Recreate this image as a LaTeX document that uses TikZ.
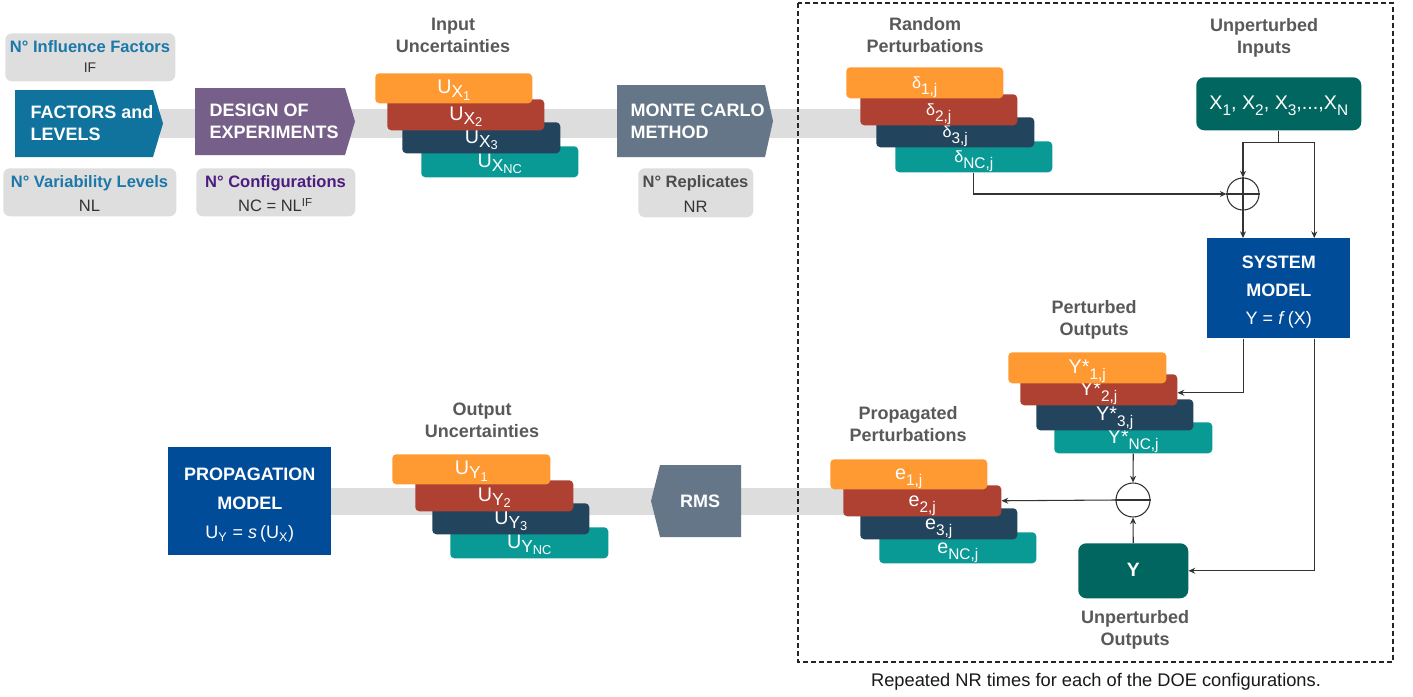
\documentclass[tikz,border=0pt]{standalone}
\usepackage{fontspec}
\setmainfont{Liberation Sans}
\usepackage{graphicx}
\usetikzlibrary{arrows.meta,calc}
\definecolor{cOr}{HTML}{FF9A33}
\definecolor{cRed}{HTML}{AE4132}
\definecolor{cNavy}{HTML}{23445D}
\definecolor{cTeal}{HTML}{0A9A96}
\definecolor{cDTeal}{HTML}{00665F}
\definecolor{cBlue}{HTML}{004C99}
\definecolor{cFac}{HTML}{10739E}
\definecolor{cDoe}{HTML}{76608A}
\definecolor{cMc}{HTML}{647687}
\definecolor{cInfo}{HTML}{DEDEDE}
\definecolor{cBand}{HTML}{DDDDDD}
\definecolor{cTtl}{HTML}{595959}
\definecolor{cInfoBlue}{HTML}{1B78A8}
\definecolor{cInfoPur}{HTML}{4C1D7F}
\definecolor{cInfoGray}{HTML}{4D4D4D}
\definecolor{cVal}{HTML}{333333}
\definecolor{cLine}{HTML}{333333}
\newcommand{\lowx}[2]{\raisebox{-0.35ex}{\scalebox{0.88}{#1}}\raisebox{-0.6ex}{\scalebox{0.65}{#2}}}
\newcommand{\sbs}[1]{\raisebox{-0.55ex}{\scalebox{0.78}{#1}}}
\newcommand{\ystar}[1]{Y*\sbs{#1}}
\newcommand{\dlt}{\scalebox{0.82}{δ}}
\newcommand{\bx}[7][stkbox]{\node[#1, minimum width={(#5-#3)*0.75pt}, minimum height={(#6-#4)*0.75pt}, anchor=north west] (#2) at (#3,#4) {#7};}
\begin{document}
\begin{tikzpicture}[x=0.75pt,y=-0.75pt,
  stkbox/.style={rounded corners=3pt, text=white, font=\fontsize{14.8}{16}\selectfont, inner sep=0pt, text height=11.75pt, text depth=3.25pt},
  infobox/.style={fill=cInfo, rounded corners=5pt, inner sep=0pt},
  bigbox/.style={fill=cBlue, inner sep=0pt},
  bigtxt/.style={text=white, align=center, inner sep=0pt},
  ttl/.style={text=cTtl, font=\bfseries\fontsize{13.5}{16.5}\selectfont, align=center},
  shtxt/.style={text=white, font=\bfseries\fontsize{13.5}{16.5}\selectfont, align=left, anchor=west},
  infottl/.style={font=\bfseries\fontsize{12.4}{14}\selectfont},
  infoval/.style={text=cVal, font=\fontsize{12.4}{14}\selectfont},
  ln/.style={draw=cLine, line width=0.8pt},
  arr/.style={draw=cLine, line width=0.8pt, -{Stealth[length=5pt,width=4.5pt]}}]
\useasboundingbox (0,0) rectangle (1413,696);
\fill[white] (0,0) rectangle (1413,696);

% bands
\fill[cBand] (160,109) rectangle (880,138);
\fill[cBand] (330,488) rectangle (845,515);

% dashed repetition frame
\draw[black!85, line width=1.4pt, dash pattern=on 3.5pt off 2.5pt] (798,3) rectangle (1393,662);
\node[text=black!90, font=\fontsize{13.7}{16}\selectfont] (cap) at (1096,682) {Repeated NR times for each of the DOE configurations.};

% arrow-shaped blocks
\fill[cFac] (15,90) -- (153,90) -- (163,123.5) -- (153,157) -- (15,157) -- cycle;
\node[shtxt] (fac) at (26,123) {FACTORS and\\LEVELS};
\fill[cDoe] (195,88) -- (345,88) -- (355,121.5) -- (345,155) -- (195,155) -- cycle;
\node[shtxt] (doe) at (205,121) {DESIGN OF\\EXPERIMENTS};
\fill[cMc] (617,85) -- (765,85) -- (773,121) -- (765,157) -- (617,157) -- cycle;
\node[shtxt] (mc) at (626,121) {MONTE CARLO\\METHOD};
\fill[cMc] (741,465) -- (660,465) -- (651,501) -- (660,537) -- (741,537) -- cycle;
\node[text=white, font=\bfseries\fontsize{13.5}{16.5}\selectfont] (rms) at (700,501) {RMS};

% info boxes
\bx[infobox]{if}{5}{33}{175}{81}{}
\node[infottl, text=cInfoBlue] (ift) at (90,47) {N° Influence Factors};
\node[infoval, font=\fontsize{10.5}{12}\selectfont] (ifv) at (90,68) {IF};
\bx[infobox]{nl}{3}{168}{176}{216}{}
\node[infottl, text=cInfoBlue] (nlt) at (89.5,183) {N° Variability Levels};
\node[infoval] (nlv) at (89.5,206) {NL};
\bx[infobox]{nc}{196}{168}{355}{216}{}
\node[infottl, text=cInfoPur] (nct) at (275.5,183) {N° Configurations};
\node[infoval] (ncv) at (275.5,205) {NC = NL\textsuperscript{IF}};
\bx[infobox]{nr}{638}{168}{753}{217}{}
\node[infottl, text=cInfoGray] (nrt) at (695.5,183) {N° Replicates};
\node[infoval] (nrv) at (695.5,207) {NR};

% titles
\node[ttl] (t1) at (453,35) {Input\\Uncertainties};
\node[ttl] (t2) at (925,35) {Random\\Perturbations};
\node[ttl] (t3) at (1264,38) {Unperturbed\\Inputs};
\node[ttl] (t4) at (1094,320) {Perturbed\\Outputs};
\node[ttl] (t5) at (908,424) {Propagated\\Perturbations};
\node[ttl] (t6) at (482,420) {Output\\Uncertainties};
\node[ttl] (t7) at (1135,630) {Unperturbed\\Outputs};

% input uncertainties
\bx[stkbox,fill=cTeal]{ux4}{421}{146}{578}{177}{U\lowx{X}{NC}}
\bx[stkbox,fill=cNavy]{ux3}{402}{122}{560}{153}{U\lowx{X}{3}}
\bx[stkbox,fill=cRed]{ux2}{387}{99}{544}{130}{U\lowx{X}{2}}
\bx[stkbox,fill=cOr]{ux1}{375}{73}{532}{103}{U\lowx{X}{1}}

% random perturbations
\bx[stkbox,fill=cTeal]{d4}{895}{141}{1052}{172}{\dlt\sbs{NC,j}}
\bx[stkbox,fill=cNavy]{d3}{876}{117}{1034}{147}{\dlt\sbs{3,j}}
\bx[stkbox,fill=cRed]{d2}{860}{94}{1017}{125}{\dlt\sbs{2,j}}
\bx[stkbox,fill=cOr]{d1}{846}{67}{1003}{98}{\dlt\sbs{1,j}}

% perturbed outputs
\bx[stkbox,fill=cTeal]{ys4}{1054}{422}{1212}{453}{\ystar{NC,j}}
\bx[stkbox,fill=cNavy]{ys3}{1036}{399}{1193}{430}{\ystar{3,j}}
\bx[stkbox,fill=cRed]{ys2}{1020}{374}{1177}{405}{\ystar{2,j}}
\bx[stkbox,fill=cOr]{ys1}{1008}{352}{1166}{383}{\ystar{1,j}}

% propagated perturbations
\bx[stkbox,fill=cTeal]{e4}{879}{532}{1036}{563}{e\sbs{NC,j}}
\bx[stkbox,fill=cNavy]{e3}{860}{508}{1017}{539}{e\sbs{3,j}}
\bx[stkbox,fill=cRed]{e2}{843}{485}{1001}{516}{e\sbs{2,j}}
\bx[stkbox,fill=cOr]{e1}{830}{459}{987}{489}{e\sbs{1,j}}

% output uncertainties
\bx[stkbox,fill=cTeal]{uy4}{450}{527}{608}{558}{U\lowx{Y}{NC}}
\bx[stkbox,fill=cNavy]{uy3}{432}{503}{589}{534}{U\lowx{Y}{3}}
\bx[stkbox,fill=cRed]{uy2}{415}{480}{573}{511}{U\lowx{Y}{2}}
\bx[stkbox,fill=cOr]{uy1}{392}{454}{550}{484}{U\lowx{Y}{1}}

% models
\bx[bigbox]{sys}{1207}{238}{1350}{338}{}
\node[bigtxt, font=\fontsize{13.5}{21}\selectfont] (systxt) at ($(sys.center)+(0,4)$) {\textbf{SYSTEM}\\\textbf{MODEL}\\Y = \textit{f}\,(X)};
\bx[bigbox]{prop}{168}{447}{331}{555}{}
\node[bigtxt, font=\fontsize{13.5}{21.75}\selectfont] (proptxt) at ($(prop.center)+(0,4)$) {\textbf{PROPAGATION}\\\textbf{MODEL}\\U\textsubscript{Y} = \textit{s}\,(U\textsubscript{X})};

% inputs / outputs
\bx[stkbox,fill=cDTeal,rounded corners=6pt]{xin}{1196}{77}{1361}{130}{X\sbs{1}, X\sbs{2}, X\sbs{3},...,X\sbs{N}}
\bx[stkbox,fill=cDTeal,rounded corners=6pt,font=\bfseries\fontsize{14.5}{16}\selectfont]{yout}{1078}{543}{1188}{598}{Y}

% summing junctions
\node[circle, draw=cLine, line width=0.8pt, minimum size=24pt, inner sep=0pt] (plus) at (1243,194) {};
\draw[ln] (plus.north) -- (plus.south);
\draw[ln] (plus.west) -- (plus.east);
\node[circle, draw=cLine, line width=0.8pt, minimum size=25.5pt, inner sep=0pt] (minus) at (1133,500) {};
\draw[ln] (minus.west) -- (minus.east);

% connectors
\coordinate (split) at ($(xin.south)+(0,12)$);
\draw[ln] (xin.south) -- (split);
\draw[arr] (split) -| (plus.north);
\draw[arr] (split) -| ($(sys.north)+(35.5,0)$);
\draw[arr] (d4.south) |- (plus.west);
\draw[arr] (plus.south) -- (plus.south |- sys.north);
\draw[arr] ($(sys.south)+(-35.5,0)$) |- ($(ys2.east)+(0,3)$);
\draw[arr] ($(sys.south)+(35.5,0)$) |- (yout.east);
\draw[arr] (ys4.south) -- (minus.north);
\draw[arr] (yout.north) -- (minus.south);
\draw[arr] (minus.west) -- (e2.east);
\end{tikzpicture}
\end{document}
